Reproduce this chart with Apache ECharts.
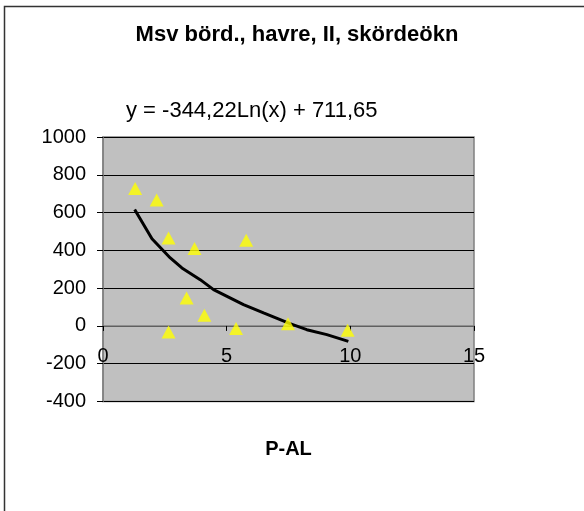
<!DOCTYPE html>
<html>
<head>
<meta charset="utf-8">
<script src="https://cdn.jsdelivr.net/npm/echarts@6/dist/echarts.min.js"></script>
<style>
  html, body { margin: 0; padding: 0; background: #fff; }
  #chart { width: 584px; height: 511px; }
</style>
</head>
<body>
<div id="chart"></div>
<script>
// data
var pAl = [1.3, 2.17, 2.65, 3.7, 5.79, 3.38, 4.1, 2.65, 5.38, 7.48, 9.89];
var skordeokn = [728, 666, 466, 410, 454, 148, 56, -32, -14, 12, -23];
// trendline as drawn in the picture
var trendX = [1.28, 1.98, 2.72, 3.19, 3.93, 4.47, 5.68, 6.49, 7.56, 8.24, 9.05, 9.92];
var trendY = [616, 461, 360, 307, 245, 192, 113, 69, 12, -20, -46, -82];
var chartTitle = 'Msv börd., havre, II, skördeökn';
var equation = 'y = -344,22Ln(x) + 711,65';
var xName = 'P-AL';

var points = pAl.map(function (x, i) { return [x, skordeokn[i]]; });
var trend = trendX.map(function (x, i) { return [x, trendY[i]]; });

var chart = echarts.init(document.getElementById('chart'));
var font = 'Liberation Sans, Arial, sans-serif';

var option = {
  animation: false,
  backgroundColor: '#fff',
  graphic: [
    { type: 'rect', shape: { x: 4.5, y: 6.5, width: 800, height: 800 },
      style: { fill: 'none', stroke: '#333', lineWidth: 1.5 }, z: 10 },
    { type: 'text', x: 297, y: 35,
      style: { text: chartTitle, font: 'bold 22px ' + font, fill: '#000',
               textAlign: 'center', textVerticalAlign: 'middle' } },
    { type: 'text', x: 126, y: 111,
      style: { text: equation, font: '22px ' + font, fill: '#000',
               textAlign: 'left', textVerticalAlign: 'middle' } }
  ],
  grid: {
    left: 103, right: 110, top: 137, bottom: 109.5,
    outerBoundsMode: 'none', containLabel: false,
    show: true, backgroundColor: '#c0c0c0', borderColor: '#808080', borderWidth: 1.5
  },
  xAxis: {
    type: 'value', min: 0, max: 15, interval: 5,
    name: xName, nameLocation: 'middle', nameGap: 38,
    nameTextStyle: { fontFamily: font, fontSize: 20, fontWeight: 'bold', color: '#000' },
    axisLine: { onZero: true, onZeroAxisIndex: 0, lineStyle: { color: '#808080', width: 1.5 } },
    axisTick: { show: true, length: 5, lineStyle: { color: '#000' } },
    axisLabel: { margin: -55, fontFamily: font, fontSize: 20, color: '#000' },
    splitLine: { show: false }
  },
  yAxis: {
    type: 'value', min: -400, max: 1000, interval: 200,
    axisLine: { show: true, onZero: false, lineStyle: { color: '#808080', width: 1.5 } },
    axisTick: { show: true, length: 6, lineStyle: { color: '#000' } },
    axisLabel: { margin: 17, fontFamily: font, fontSize: 20, color: '#000',
                 formatter: function (v) { return String(v); } },
    splitLine: { show: true, lineStyle: { color: '#000', width: 1 } }
  },
  series: [
    {
      type: 'line', data: trend, showSymbol: false, smooth: false,
      lineStyle: { color: '#000', width: 3 }, z: 2
    },
    {
      type: 'scatter', data: points, symbol: 'triangle', symbolSize: [14, 13],
      itemStyle: { color: '#ffff00' }, z: 3
    }
  ]
};
chart.setOption(option);
</script>
</body>
</html>
